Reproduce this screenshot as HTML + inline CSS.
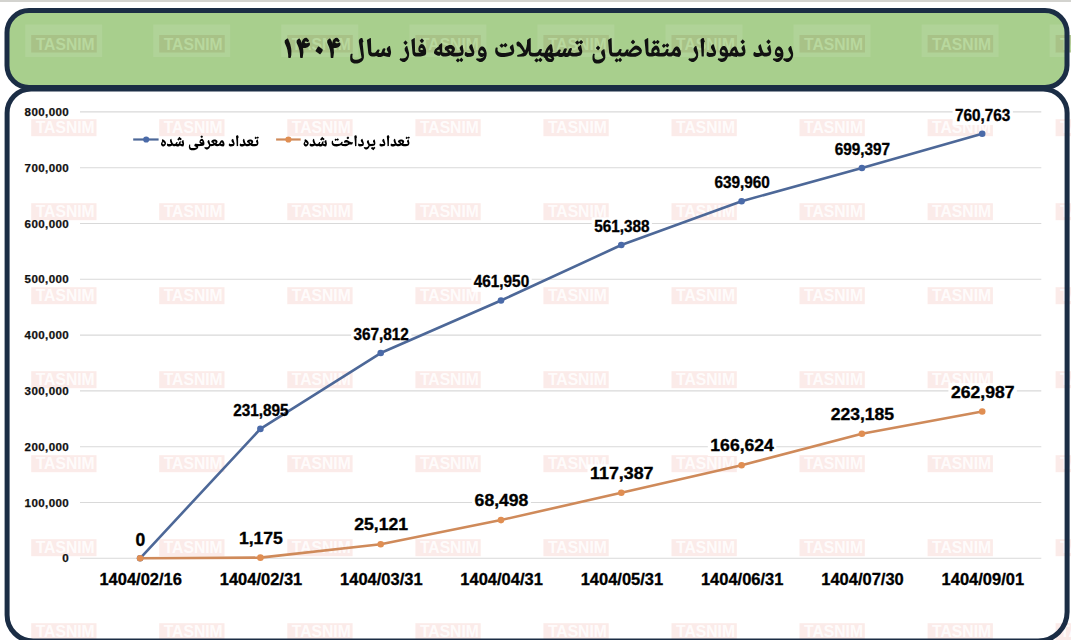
<!DOCTYPE html>
<html><head><meta charset="utf-8"><style>
html,body{margin:0;padding:0;background:#fff;}
svg{display:block;}
text{font-family:"Liberation Sans",sans-serif;font-weight:700;}
.wm{font-size:16.2px;text-anchor:middle;}
.ya{font-size:11.6px;text-anchor:end;letter-spacing:0.37px;fill:#111;stroke:#111;stroke-width:0.25px;}
.dl{font-size:15px;text-anchor:middle;fill:#000;stroke:#000;stroke-width:0.35px;}
.xa{font-size:16px;text-anchor:middle;fill:#000;stroke:#000;stroke-width:0.3px;}
</style></head><body>
<svg width="1071" height="640" viewBox="0 0 1071 640">
<rect x="0" y="0" width="1071" height="640" fill="#ffffff"/><rect x="0" y="0" width="1071" height="2" fill="#d3d3cf"/><rect x="7" y="10.5" width="1060" height="77" rx="22" ry="22" fill="#a8cf8d"/><path d="M31.1 89 H1043.1 A24 24 0 0 1 1067.1 113 V612 A29 29 0 0 1 1038.1 641 H33.1 A26 26 0 0 1 7.1 615 V113 A24 24 0 0 1 31.1 89 Z" fill="#ffffff"/>
<rect x="25.2" y="24.5" width="77" height="32.5" fill="#ffffff" fill-opacity="0.10"/><rect x="31.2" y="35" width="65.5" height="17.5" fill="#a7be84" fill-opacity="0.85"/><text x="65.2" y="49.6" class="wm" fill="#b8d89e" textLength="59" lengthAdjust="spacingAndGlyphs">TASNIM</text><rect x="153.2" y="24.5" width="77" height="32.5" fill="#ffffff" fill-opacity="0.10"/><rect x="159.2" y="35" width="65.5" height="17.5" fill="#a7be84" fill-opacity="0.85"/><text x="193.2" y="49.6" class="wm" fill="#b8d89e" textLength="59" lengthAdjust="spacingAndGlyphs">TASNIM</text><rect x="281.3" y="24.5" width="77" height="32.5" fill="#ffffff" fill-opacity="0.10"/><rect x="287.3" y="35" width="65.5" height="17.5" fill="#a7be84" fill-opacity="0.85"/><text x="321.3" y="49.6" class="wm" fill="#b8d89e" textLength="59" lengthAdjust="spacingAndGlyphs">TASNIM</text><rect x="409.4" y="24.5" width="77" height="32.5" fill="#ffffff" fill-opacity="0.10"/><rect x="415.4" y="35" width="65.5" height="17.5" fill="#a7be84" fill-opacity="0.85"/><text x="449.4" y="49.6" class="wm" fill="#b8d89e" textLength="59" lengthAdjust="spacingAndGlyphs">TASNIM</text><rect x="537.4" y="24.5" width="77" height="32.5" fill="#ffffff" fill-opacity="0.10"/><rect x="543.4" y="35" width="65.5" height="17.5" fill="#a7be84" fill-opacity="0.85"/><text x="577.4" y="49.6" class="wm" fill="#b8d89e" textLength="59" lengthAdjust="spacingAndGlyphs">TASNIM</text><rect x="665.5" y="24.5" width="77" height="32.5" fill="#ffffff" fill-opacity="0.10"/><rect x="671.5" y="35" width="65.5" height="17.5" fill="#a7be84" fill-opacity="0.85"/><text x="705.5" y="49.6" class="wm" fill="#b8d89e" textLength="59" lengthAdjust="spacingAndGlyphs">TASNIM</text><rect x="793.5" y="24.5" width="77" height="32.5" fill="#ffffff" fill-opacity="0.10"/><rect x="799.5" y="35" width="65.5" height="17.5" fill="#a7be84" fill-opacity="0.85"/><text x="833.5" y="49.6" class="wm" fill="#b8d89e" textLength="59" lengthAdjust="spacingAndGlyphs">TASNIM</text><rect x="921.6" y="24.5" width="77" height="32.5" fill="#ffffff" fill-opacity="0.10"/><rect x="927.6" y="35" width="65.5" height="17.5" fill="#a7be84" fill-opacity="0.85"/><text x="961.6" y="49.6" class="wm" fill="#b8d89e" textLength="59" lengthAdjust="spacingAndGlyphs">TASNIM</text><rect x="1049.6" y="24.5" width="77" height="32.5" fill="#ffffff" fill-opacity="0.10"/><rect x="1055.6" y="35" width="65.5" height="17.5" fill="#a7be84" fill-opacity="0.85"/><text x="1089.6" y="49.6" class="wm" fill="#b8d89e" textLength="59" lengthAdjust="spacingAndGlyphs">TASNIM</text><rect x="31.2" y="119.2" width="65.3" height="17" fill="#e05040" fill-opacity="0.115"/><text x="65.2" y="133.2" class="wm" fill="#ffffff" fill-opacity="0.85" textLength="59" lengthAdjust="spacingAndGlyphs">TASNIM</text><rect x="159.2" y="119.2" width="65.3" height="17" fill="#e05040" fill-opacity="0.115"/><text x="193.2" y="133.2" class="wm" fill="#ffffff" fill-opacity="0.85" textLength="59" lengthAdjust="spacingAndGlyphs">TASNIM</text><rect x="287.3" y="119.2" width="65.3" height="17" fill="#e05040" fill-opacity="0.115"/><text x="321.3" y="133.2" class="wm" fill="#ffffff" fill-opacity="0.85" textLength="59" lengthAdjust="spacingAndGlyphs">TASNIM</text><rect x="415.4" y="119.2" width="65.3" height="17" fill="#e05040" fill-opacity="0.115"/><text x="449.4" y="133.2" class="wm" fill="#ffffff" fill-opacity="0.85" textLength="59" lengthAdjust="spacingAndGlyphs">TASNIM</text><rect x="543.4" y="119.2" width="65.3" height="17" fill="#e05040" fill-opacity="0.115"/><text x="577.4" y="133.2" class="wm" fill="#ffffff" fill-opacity="0.85" textLength="59" lengthAdjust="spacingAndGlyphs">TASNIM</text><rect x="671.5" y="119.2" width="65.3" height="17" fill="#e05040" fill-opacity="0.115"/><text x="705.5" y="133.2" class="wm" fill="#ffffff" fill-opacity="0.85" textLength="59" lengthAdjust="spacingAndGlyphs">TASNIM</text><rect x="799.5" y="119.2" width="65.3" height="17" fill="#e05040" fill-opacity="0.115"/><text x="833.5" y="133.2" class="wm" fill="#ffffff" fill-opacity="0.85" textLength="59" lengthAdjust="spacingAndGlyphs">TASNIM</text><rect x="927.6" y="119.2" width="65.3" height="17" fill="#e05040" fill-opacity="0.115"/><text x="961.6" y="133.2" class="wm" fill="#ffffff" fill-opacity="0.85" textLength="59" lengthAdjust="spacingAndGlyphs">TASNIM</text><rect x="1055.6" y="119.2" width="65.3" height="17" fill="#e05040" fill-opacity="0.115"/><text x="1089.6" y="133.2" class="wm" fill="#ffffff" fill-opacity="0.85" textLength="59" lengthAdjust="spacingAndGlyphs">TASNIM</text><rect x="31.2" y="203.2" width="65.3" height="17" fill="#e05040" fill-opacity="0.115"/><text x="65.2" y="217.2" class="wm" fill="#ffffff" fill-opacity="0.85" textLength="59" lengthAdjust="spacingAndGlyphs">TASNIM</text><rect x="159.2" y="203.2" width="65.3" height="17" fill="#e05040" fill-opacity="0.115"/><text x="193.2" y="217.2" class="wm" fill="#ffffff" fill-opacity="0.85" textLength="59" lengthAdjust="spacingAndGlyphs">TASNIM</text><rect x="287.3" y="203.2" width="65.3" height="17" fill="#e05040" fill-opacity="0.115"/><text x="321.3" y="217.2" class="wm" fill="#ffffff" fill-opacity="0.85" textLength="59" lengthAdjust="spacingAndGlyphs">TASNIM</text><rect x="415.4" y="203.2" width="65.3" height="17" fill="#e05040" fill-opacity="0.115"/><text x="449.4" y="217.2" class="wm" fill="#ffffff" fill-opacity="0.85" textLength="59" lengthAdjust="spacingAndGlyphs">TASNIM</text><rect x="543.4" y="203.2" width="65.3" height="17" fill="#e05040" fill-opacity="0.115"/><text x="577.4" y="217.2" class="wm" fill="#ffffff" fill-opacity="0.85" textLength="59" lengthAdjust="spacingAndGlyphs">TASNIM</text><rect x="671.5" y="203.2" width="65.3" height="17" fill="#e05040" fill-opacity="0.115"/><text x="705.5" y="217.2" class="wm" fill="#ffffff" fill-opacity="0.85" textLength="59" lengthAdjust="spacingAndGlyphs">TASNIM</text><rect x="799.5" y="203.2" width="65.3" height="17" fill="#e05040" fill-opacity="0.115"/><text x="833.5" y="217.2" class="wm" fill="#ffffff" fill-opacity="0.85" textLength="59" lengthAdjust="spacingAndGlyphs">TASNIM</text><rect x="927.6" y="203.2" width="65.3" height="17" fill="#e05040" fill-opacity="0.115"/><text x="961.6" y="217.2" class="wm" fill="#ffffff" fill-opacity="0.85" textLength="59" lengthAdjust="spacingAndGlyphs">TASNIM</text><rect x="1055.6" y="203.2" width="65.3" height="17" fill="#e05040" fill-opacity="0.115"/><text x="1089.6" y="217.2" class="wm" fill="#ffffff" fill-opacity="0.85" textLength="59" lengthAdjust="spacingAndGlyphs">TASNIM</text><rect x="31.2" y="287.2" width="65.3" height="17" fill="#e05040" fill-opacity="0.115"/><text x="65.2" y="301.2" class="wm" fill="#ffffff" fill-opacity="0.85" textLength="59" lengthAdjust="spacingAndGlyphs">TASNIM</text><rect x="159.2" y="287.2" width="65.3" height="17" fill="#e05040" fill-opacity="0.115"/><text x="193.2" y="301.2" class="wm" fill="#ffffff" fill-opacity="0.85" textLength="59" lengthAdjust="spacingAndGlyphs">TASNIM</text><rect x="287.3" y="287.2" width="65.3" height="17" fill="#e05040" fill-opacity="0.115"/><text x="321.3" y="301.2" class="wm" fill="#ffffff" fill-opacity="0.85" textLength="59" lengthAdjust="spacingAndGlyphs">TASNIM</text><rect x="415.4" y="287.2" width="65.3" height="17" fill="#e05040" fill-opacity="0.115"/><text x="449.4" y="301.2" class="wm" fill="#ffffff" fill-opacity="0.85" textLength="59" lengthAdjust="spacingAndGlyphs">TASNIM</text><rect x="543.4" y="287.2" width="65.3" height="17" fill="#e05040" fill-opacity="0.115"/><text x="577.4" y="301.2" class="wm" fill="#ffffff" fill-opacity="0.85" textLength="59" lengthAdjust="spacingAndGlyphs">TASNIM</text><rect x="671.5" y="287.2" width="65.3" height="17" fill="#e05040" fill-opacity="0.115"/><text x="705.5" y="301.2" class="wm" fill="#ffffff" fill-opacity="0.85" textLength="59" lengthAdjust="spacingAndGlyphs">TASNIM</text><rect x="799.5" y="287.2" width="65.3" height="17" fill="#e05040" fill-opacity="0.115"/><text x="833.5" y="301.2" class="wm" fill="#ffffff" fill-opacity="0.85" textLength="59" lengthAdjust="spacingAndGlyphs">TASNIM</text><rect x="927.6" y="287.2" width="65.3" height="17" fill="#e05040" fill-opacity="0.115"/><text x="961.6" y="301.2" class="wm" fill="#ffffff" fill-opacity="0.85" textLength="59" lengthAdjust="spacingAndGlyphs">TASNIM</text><rect x="1055.6" y="287.2" width="65.3" height="17" fill="#e05040" fill-opacity="0.115"/><text x="1089.6" y="301.2" class="wm" fill="#ffffff" fill-opacity="0.85" textLength="59" lengthAdjust="spacingAndGlyphs">TASNIM</text><rect x="31.2" y="371.2" width="65.3" height="17" fill="#e05040" fill-opacity="0.115"/><text x="65.2" y="385.2" class="wm" fill="#ffffff" fill-opacity="0.85" textLength="59" lengthAdjust="spacingAndGlyphs">TASNIM</text><rect x="159.2" y="371.2" width="65.3" height="17" fill="#e05040" fill-opacity="0.115"/><text x="193.2" y="385.2" class="wm" fill="#ffffff" fill-opacity="0.85" textLength="59" lengthAdjust="spacingAndGlyphs">TASNIM</text><rect x="287.3" y="371.2" width="65.3" height="17" fill="#e05040" fill-opacity="0.115"/><text x="321.3" y="385.2" class="wm" fill="#ffffff" fill-opacity="0.85" textLength="59" lengthAdjust="spacingAndGlyphs">TASNIM</text><rect x="415.4" y="371.2" width="65.3" height="17" fill="#e05040" fill-opacity="0.115"/><text x="449.4" y="385.2" class="wm" fill="#ffffff" fill-opacity="0.85" textLength="59" lengthAdjust="spacingAndGlyphs">TASNIM</text><rect x="543.4" y="371.2" width="65.3" height="17" fill="#e05040" fill-opacity="0.115"/><text x="577.4" y="385.2" class="wm" fill="#ffffff" fill-opacity="0.85" textLength="59" lengthAdjust="spacingAndGlyphs">TASNIM</text><rect x="671.5" y="371.2" width="65.3" height="17" fill="#e05040" fill-opacity="0.115"/><text x="705.5" y="385.2" class="wm" fill="#ffffff" fill-opacity="0.85" textLength="59" lengthAdjust="spacingAndGlyphs">TASNIM</text><rect x="799.5" y="371.2" width="65.3" height="17" fill="#e05040" fill-opacity="0.115"/><text x="833.5" y="385.2" class="wm" fill="#ffffff" fill-opacity="0.85" textLength="59" lengthAdjust="spacingAndGlyphs">TASNIM</text><rect x="927.6" y="371.2" width="65.3" height="17" fill="#e05040" fill-opacity="0.115"/><text x="961.6" y="385.2" class="wm" fill="#ffffff" fill-opacity="0.85" textLength="59" lengthAdjust="spacingAndGlyphs">TASNIM</text><rect x="1055.6" y="371.2" width="65.3" height="17" fill="#e05040" fill-opacity="0.115"/><text x="1089.6" y="385.2" class="wm" fill="#ffffff" fill-opacity="0.85" textLength="59" lengthAdjust="spacingAndGlyphs">TASNIM</text><rect x="31.2" y="455.2" width="65.3" height="17" fill="#e05040" fill-opacity="0.115"/><text x="65.2" y="469.2" class="wm" fill="#ffffff" fill-opacity="0.85" textLength="59" lengthAdjust="spacingAndGlyphs">TASNIM</text><rect x="159.2" y="455.2" width="65.3" height="17" fill="#e05040" fill-opacity="0.115"/><text x="193.2" y="469.2" class="wm" fill="#ffffff" fill-opacity="0.85" textLength="59" lengthAdjust="spacingAndGlyphs">TASNIM</text><rect x="287.3" y="455.2" width="65.3" height="17" fill="#e05040" fill-opacity="0.115"/><text x="321.3" y="469.2" class="wm" fill="#ffffff" fill-opacity="0.85" textLength="59" lengthAdjust="spacingAndGlyphs">TASNIM</text><rect x="415.4" y="455.2" width="65.3" height="17" fill="#e05040" fill-opacity="0.115"/><text x="449.4" y="469.2" class="wm" fill="#ffffff" fill-opacity="0.85" textLength="59" lengthAdjust="spacingAndGlyphs">TASNIM</text><rect x="543.4" y="455.2" width="65.3" height="17" fill="#e05040" fill-opacity="0.115"/><text x="577.4" y="469.2" class="wm" fill="#ffffff" fill-opacity="0.85" textLength="59" lengthAdjust="spacingAndGlyphs">TASNIM</text><rect x="671.5" y="455.2" width="65.3" height="17" fill="#e05040" fill-opacity="0.115"/><text x="705.5" y="469.2" class="wm" fill="#ffffff" fill-opacity="0.85" textLength="59" lengthAdjust="spacingAndGlyphs">TASNIM</text><rect x="799.5" y="455.2" width="65.3" height="17" fill="#e05040" fill-opacity="0.115"/><text x="833.5" y="469.2" class="wm" fill="#ffffff" fill-opacity="0.85" textLength="59" lengthAdjust="spacingAndGlyphs">TASNIM</text><rect x="927.6" y="455.2" width="65.3" height="17" fill="#e05040" fill-opacity="0.115"/><text x="961.6" y="469.2" class="wm" fill="#ffffff" fill-opacity="0.85" textLength="59" lengthAdjust="spacingAndGlyphs">TASNIM</text><rect x="1055.6" y="455.2" width="65.3" height="17" fill="#e05040" fill-opacity="0.115"/><text x="1089.6" y="469.2" class="wm" fill="#ffffff" fill-opacity="0.85" textLength="59" lengthAdjust="spacingAndGlyphs">TASNIM</text><rect x="31.2" y="539.2" width="65.3" height="17" fill="#e05040" fill-opacity="0.115"/><text x="65.2" y="553.2" class="wm" fill="#ffffff" fill-opacity="0.85" textLength="59" lengthAdjust="spacingAndGlyphs">TASNIM</text><rect x="159.2" y="539.2" width="65.3" height="17" fill="#e05040" fill-opacity="0.115"/><text x="193.2" y="553.2" class="wm" fill="#ffffff" fill-opacity="0.85" textLength="59" lengthAdjust="spacingAndGlyphs">TASNIM</text><rect x="287.3" y="539.2" width="65.3" height="17" fill="#e05040" fill-opacity="0.115"/><text x="321.3" y="553.2" class="wm" fill="#ffffff" fill-opacity="0.85" textLength="59" lengthAdjust="spacingAndGlyphs">TASNIM</text><rect x="415.4" y="539.2" width="65.3" height="17" fill="#e05040" fill-opacity="0.115"/><text x="449.4" y="553.2" class="wm" fill="#ffffff" fill-opacity="0.85" textLength="59" lengthAdjust="spacingAndGlyphs">TASNIM</text><rect x="543.4" y="539.2" width="65.3" height="17" fill="#e05040" fill-opacity="0.115"/><text x="577.4" y="553.2" class="wm" fill="#ffffff" fill-opacity="0.85" textLength="59" lengthAdjust="spacingAndGlyphs">TASNIM</text><rect x="671.5" y="539.2" width="65.3" height="17" fill="#e05040" fill-opacity="0.115"/><text x="705.5" y="553.2" class="wm" fill="#ffffff" fill-opacity="0.85" textLength="59" lengthAdjust="spacingAndGlyphs">TASNIM</text><rect x="799.5" y="539.2" width="65.3" height="17" fill="#e05040" fill-opacity="0.115"/><text x="833.5" y="553.2" class="wm" fill="#ffffff" fill-opacity="0.85" textLength="59" lengthAdjust="spacingAndGlyphs">TASNIM</text><rect x="927.6" y="539.2" width="65.3" height="17" fill="#e05040" fill-opacity="0.115"/><text x="961.6" y="553.2" class="wm" fill="#ffffff" fill-opacity="0.85" textLength="59" lengthAdjust="spacingAndGlyphs">TASNIM</text><rect x="1055.6" y="539.2" width="65.3" height="17" fill="#e05040" fill-opacity="0.115"/><text x="1089.6" y="553.2" class="wm" fill="#ffffff" fill-opacity="0.85" textLength="59" lengthAdjust="spacingAndGlyphs">TASNIM</text><rect x="31.2" y="623.2" width="65.3" height="17" fill="#e05040" fill-opacity="0.115"/><text x="65.2" y="637.2" class="wm" fill="#ffffff" fill-opacity="0.85" textLength="59" lengthAdjust="spacingAndGlyphs">TASNIM</text><rect x="159.2" y="623.2" width="65.3" height="17" fill="#e05040" fill-opacity="0.115"/><text x="193.2" y="637.2" class="wm" fill="#ffffff" fill-opacity="0.85" textLength="59" lengthAdjust="spacingAndGlyphs">TASNIM</text><rect x="287.3" y="623.2" width="65.3" height="17" fill="#e05040" fill-opacity="0.115"/><text x="321.3" y="637.2" class="wm" fill="#ffffff" fill-opacity="0.85" textLength="59" lengthAdjust="spacingAndGlyphs">TASNIM</text><rect x="415.4" y="623.2" width="65.3" height="17" fill="#e05040" fill-opacity="0.115"/><text x="449.4" y="637.2" class="wm" fill="#ffffff" fill-opacity="0.85" textLength="59" lengthAdjust="spacingAndGlyphs">TASNIM</text><rect x="543.4" y="623.2" width="65.3" height="17" fill="#e05040" fill-opacity="0.115"/><text x="577.4" y="637.2" class="wm" fill="#ffffff" fill-opacity="0.85" textLength="59" lengthAdjust="spacingAndGlyphs">TASNIM</text><rect x="671.5" y="623.2" width="65.3" height="17" fill="#e05040" fill-opacity="0.115"/><text x="705.5" y="637.2" class="wm" fill="#ffffff" fill-opacity="0.85" textLength="59" lengthAdjust="spacingAndGlyphs">TASNIM</text><rect x="799.5" y="623.2" width="65.3" height="17" fill="#e05040" fill-opacity="0.115"/><text x="833.5" y="637.2" class="wm" fill="#ffffff" fill-opacity="0.85" textLength="59" lengthAdjust="spacingAndGlyphs">TASNIM</text><rect x="927.6" y="623.2" width="65.3" height="17" fill="#e05040" fill-opacity="0.115"/><text x="961.6" y="637.2" class="wm" fill="#ffffff" fill-opacity="0.85" textLength="59" lengthAdjust="spacingAndGlyphs">TASNIM</text><rect x="1055.6" y="623.2" width="65.3" height="17" fill="#e05040" fill-opacity="0.115"/><text x="1089.6" y="637.2" class="wm" fill="#ffffff" fill-opacity="0.85" textLength="59" lengthAdjust="spacingAndGlyphs">TASNIM</text>
<line x1="80" y1="558.30" x2="1041.3" y2="558.30" stroke="#d9d9d9" stroke-width="1.1"/><text x="69.1" y="562.30" class="ya">0</text><line x1="80" y1="502.50" x2="1041.3" y2="502.50" stroke="#d9d9d9" stroke-width="1.1"/><text x="69.1" y="506.50" class="ya">100,000</text><line x1="80" y1="446.70" x2="1041.3" y2="446.70" stroke="#d9d9d9" stroke-width="1.1"/><text x="69.1" y="450.70" class="ya">200,000</text><line x1="80" y1="390.90" x2="1041.3" y2="390.90" stroke="#d9d9d9" stroke-width="1.1"/><text x="69.1" y="394.90" class="ya">300,000</text><line x1="80" y1="335.10" x2="1041.3" y2="335.10" stroke="#d9d9d9" stroke-width="1.1"/><text x="69.1" y="339.10" class="ya">400,000</text><line x1="80" y1="279.30" x2="1041.3" y2="279.30" stroke="#d9d9d9" stroke-width="1.1"/><text x="69.1" y="283.30" class="ya">500,000</text><line x1="80" y1="223.50" x2="1041.3" y2="223.50" stroke="#d9d9d9" stroke-width="1.1"/><text x="69.1" y="227.50" class="ya">600,000</text><line x1="80" y1="167.70" x2="1041.3" y2="167.70" stroke="#d9d9d9" stroke-width="1.1"/><text x="69.1" y="171.70" class="ya">700,000</text><line x1="80" y1="111.90" x2="1041.3" y2="111.90" stroke="#d9d9d9" stroke-width="1.1"/><text x="69.1" y="115.90" class="ya">800,000</text>
<path d="M318.1 46.5 315.6 50.6 315.6 51.2 319.8 54.2 320.3 54.2 322.0 51.9 322.7 50.6 322.7 49.6 320.6 47.7 318.9 46.6ZM287.1 38.4 285.0 40.2 284.7 40.8 284.7 42.8 286.7 47.4 287.5 50.3 288.2 55.0 288.2 57.4 288.9 57.9 290.3 58.0 290.8 57.5 291.3 54.9 291.4 50.7 291.1 47.9 290.2 43.9 288.2 38.9 287.7 38.4ZM336.8 37.8 335.2 37.9 333.5 39.4 332.7 40.9 332.4 43.0 331.3 40.2 330.2 38.4 329.6 38.4 328.8 38.9 327.5 40.2 327.2 40.8 327.2 42.8 329.2 47.4 330.0 50.3 330.5 53.4 330.7 57.4 331.3 57.9 333.0 58.0 333.3 57.7 334.0 52.6 333.6 48.1 336.0 47.9 338.2 47.3 339.0 46.8 340.4 45.2 340.5 43.8 340.2 42.7 339.9 42.4 339.4 42.4 337.6 43.3 336.5 43.3 335.8 43.0 335.2 42.0 336.0 41.6 336.8 41.6 338.5 42.2 339.6 41.1 339.6 40.5 339.1 39.7 337.6 38.1ZM332.4 43.2 332.5 43.0 332.7 43.3 332.5 43.5ZM306.2 37.8 304.6 37.9 302.9 39.4 302.1 40.9 301.8 43.0 300.7 40.2 299.6 38.4 299.0 38.4 298.2 38.9 296.9 40.2 296.6 40.8 296.6 42.8 298.7 47.4 299.4 50.3 299.9 53.4 300.1 57.4 300.7 57.9 302.4 58.0 302.7 57.7 303.4 52.6 303.1 48.1 305.4 47.9 307.6 47.3 308.4 46.8 309.8 45.2 310.0 43.8 309.6 42.7 309.3 42.4 308.9 42.4 307.0 43.3 305.9 43.3 305.2 43.0 304.6 42.0 305.4 41.6 306.2 41.6 307.9 42.2 309.0 41.1 309.0 40.5 308.5 39.7 307.0 38.1ZM301.8 43.2 302.0 43.0 302.1 43.3 302.0 43.5ZM366.9 40.1 368.3 53.0 368.8 54.5 370.2 55.9 371.9 56.6 374.4 56.6 376.3 56.1 378.4 56.9 380.6 56.9 382.1 56.6 383.5 55.7 384.3 56.1 387.1 56.7 389.7 56.9 390.0 56.6 390.9 53.9 391.1 52.1 390.0 46.3 389.7 46.1 389.2 46.1 388.2 46.7 387.3 47.7 386.7 48.7 386.9 49.9 388.4 52.9 388.2 53.1 385.9 52.7 384.6 52.2 384.8 50.9 385.5 49.3 385.5 48.9 384.8 48.3 383.3 48.5 382.7 49.1 381.6 52.1 381.0 52.9 378.6 52.9 379.7 49.9 378.9 49.4 378.0 49.4 377.5 49.7 375.6 52.3 374.7 52.7 372.2 52.7 371.3 52.1 370.9 38.3 370.3 38.1 367.7 39.4ZM362.2 38.1 361.4 38.1 360.1 38.6 359.3 39.4 358.8 40.6 358.9 42.6 361.6 57.7 360.4 58.6 358.2 59.5 356.3 59.8 355.1 59.8 354.0 59.5 352.9 58.7 352.4 57.4 352.4 55.4 352.7 54.1 352.4 53.8 351.0 53.7 350.6 54.3 350.2 56.2 350.2 59.5 350.6 60.9 351.3 61.9 352.8 63.1 354.2 63.5 357.2 63.5 359.2 63.0 360.5 62.3 361.8 61.4 362.9 60.2 363.5 59.0 363.9 57.4 363.9 55.3 362.7 43.7 362.7 42.5 363.5 41.8 362.4 38.3ZM407.1 46.1 406.6 46.1 405.7 46.7 404.7 48.3 404.7 49.9 404.9 50.7 407.2 55.0 406.6 56.5 405.5 57.7 404.2 58.3 401.8 58.5 400.2 58.2 399.6 59.4 399.6 59.7 400.7 60.7 402.8 62.1 404.7 61.9 406.2 61.1 407.7 59.5 408.7 57.3 409.1 55.4 409.1 53.1 407.3 46.3ZM405.4 40.5 403.5 42.6 403.5 43.0 405.4 45.0 405.7 45.0 407.5 42.9 407.5 42.5 405.7 40.5ZM421.7 38.5 419.8 40.6 419.8 41.0 421.7 43.0 422.1 43.0 423.9 40.9 423.9 40.5 422.1 38.5ZM411.6 39.7 411.3 40.1 411.5 41.8 412.4 51.9 412.6 53.5 413.2 54.9 414.2 55.9 415.7 56.6 420.7 56.5 422.8 56.1 425.1 55.3 425.7 54.6 426.1 53.5 426.1 50.6 425.8 49.1 425.2 47.3 424.2 45.4 423.2 44.5 421.7 44.1 420.4 44.6 419.0 46.3 418.4 48.2 418.4 50.3 418.6 51.0 419.3 51.9 419.9 52.3 420.7 52.5 420.7 52.7 416.0 52.7 415.1 52.1 414.8 38.3 414.3 38.1ZM420.2 48.9 420.9 48.1 422.0 48.1 422.8 48.7 423.2 49.5 423.0 49.8 421.1 49.9 420.7 49.8 420.3 49.4ZM463.2 59.7 461.5 57.8 461.2 57.8 459.5 59.7 458.1 58.2 457.8 58.2 455.9 60.2 455.9 60.5 457.6 62.2 458.2 62.3 459.7 60.6 461.1 61.9 461.5 61.9 462.9 60.5ZM482.8 46.5 481.1 46.6 479.5 48.1 478.4 50.5 478.1 51.8 478.1 53.8 478.6 55.3 480.0 56.6 480.9 56.9 482.4 56.9 483.8 56.3 483.8 56.7 482.9 57.5 480.5 58.5 478.4 58.5 476.7 58.2 476.1 59.4 476.1 59.7 477.1 60.6 479.6 62.1 481.0 62.1 482.4 61.7 484.3 60.3 485.5 58.7 486.5 56.1 486.7 53.0 486.0 50.3 485.0 48.3 483.8 47.0ZM480.1 51.5 480.8 50.6 481.3 50.3 482.0 50.3 482.8 50.7 483.4 51.4 484.2 52.9 482.9 53.3 481.0 53.1 480.2 52.6ZM471.8 44.2 470.7 44.6 469.7 45.7 469.3 46.5 469.3 47.8 469.7 48.7 471.9 52.5 471.7 52.7 470.4 53.0 468.1 53.0 467.1 52.7 466.1 52.1 465.6 52.1 465.1 52.6 464.7 53.7 464.7 55.1 465.0 55.7 466.1 56.6 467.3 56.9 470.7 56.7 472.9 56.1 473.7 55.3 474.3 53.3 474.3 51.5 472.1 44.5ZM434.0 52.2 434.0 53.3 435.0 54.3 436.3 55.1 437.9 55.7 439.8 55.8 440.6 54.6 441.4 55.8 442.3 56.3 443.3 56.6 445.8 56.6 447.4 56.3 449.2 55.7 450.1 55.1 451.3 55.8 453.3 56.5 457.4 56.6 460.3 56.1 462.4 55.3 462.7 54.9 463.5 52.9 463.6 50.7 462.7 45.8 462.4 45.1 462.0 45.1 461.2 45.7 460.0 47.0 459.7 47.5 459.8 49.1 461.3 52.1 461.2 52.2 458.6 52.7 453.5 52.7 453.4 52.6 454.4 51.3 454.9 49.8 454.9 48.6 454.4 47.3 453.0 45.8 451.5 45.1 449.1 45.1 447.4 45.7 446.1 46.3 445.0 47.5 444.7 48.2 444.7 49.1 445.1 50.1 445.6 50.6 446.2 50.5 447.6 51.9 448.0 52.6 445.5 52.9 442.9 52.6 442.2 52.2 442.2 43.5 441.9 43.3 441.4 43.3 438.9 45.3 438.9 46.2 437.2 47.4 435.1 49.3 434.6 50.2ZM440.0 51.8 438.5 51.8 436.6 51.0 437.4 50.3 439.4 49.4ZM448.6 49.0 449.6 48.7 450.9 48.7 451.4 49.0 451.8 49.7 451.5 50.7 450.8 51.7 448.5 49.3ZM542.4 59.7 540.5 57.8 540.2 57.8 538.3 59.7 536.8 58.2 536.5 58.2 534.4 60.2 534.4 60.5 536.2 62.2 536.9 62.3 538.6 60.6 540.1 61.9 540.5 61.9 542.0 60.5ZM513.2 44.7 512.9 44.5 512.3 44.5 510.3 46.2 509.8 47.0 510.0 48.2 511.8 51.4 511.1 51.8 508.2 52.6 505.3 53.0 501.8 53.0 499.8 52.6 498.9 52.2 497.8 50.9 497.5 49.8 497.7 47.9 497.3 47.5 496.0 47.5 495.6 47.9 495.2 49.9 495.2 51.9 495.9 54.1 497.5 55.8 498.9 56.5 500.9 56.9 504.2 56.9 507.2 56.5 511.1 55.4 512.7 54.6 513.6 53.5 514.3 51.1ZM507.5 45.0 505.6 43.1 505.3 43.1 503.3 45.0 501.8 43.5 501.6 43.5 499.5 45.5 499.5 45.8 501.3 47.5 502.0 47.7 503.6 45.9 505.1 47.3 505.6 47.3 507.1 45.8ZM583.2 41.9 581.2 40.1 581.0 40.1 579.0 41.9 577.5 40.5 577.2 40.5 575.2 42.5 575.2 42.7 576.9 44.5 577.6 44.6 579.3 42.9 580.8 44.2 581.2 44.2 582.7 42.7ZM516.5 43.0 516.5 44.6 516.9 45.4 517.8 46.5 518.8 46.5 519.6 47.1 521.6 49.4 523.5 52.5 522.4 53.3 520.9 53.9 517.4 54.9 517.2 55.1 517.2 56.2 517.6 56.7 523.6 56.5 525.7 55.8 527.2 54.1 528.5 50.7 528.9 54.1 529.3 55.0 530.3 55.9 532.2 56.6 535.9 56.6 537.9 56.2 538.7 55.8 539.5 55.0 541.2 56.2 542.4 56.6 543.5 56.6 543.8 57.4 544.9 57.9 545.6 59.7 546.7 60.9 547.9 61.7 549.5 62.1 552.0 61.9 553.2 61.1 554.2 58.9 554.2 57.9 553.5 56.9 553.6 56.6 555.5 56.6 557.5 56.1 559.7 56.9 561.9 56.9 563.8 56.3 565.5 56.9 567.4 56.9 569.1 56.3 569.9 55.4 571.3 56.2 572.7 56.6 576.5 56.5 579.6 55.8 580.8 55.3 581.5 54.3 582.2 52.3 582.2 50.7 581.2 45.8 580.8 45.1 580.4 45.1 579.6 45.7 578.2 47.0 577.9 47.5 578.1 49.1 579.7 52.1 579.3 52.3 574.0 52.9 571.3 52.5 570.9 52.1 572.0 49.1 572.0 48.6 571.6 48.2 570.3 48.1 569.9 48.2 569.1 49.0 567.8 52.3 567.3 53.0 565.6 53.0 566.9 49.3 566.9 48.9 566.2 48.3 564.7 48.5 564.0 49.1 562.9 52.1 562.3 52.9 559.8 52.9 560.9 49.9 560.1 49.4 559.3 49.4 558.7 49.7 557.2 51.9 556.2 52.6 554.7 52.9 552.4 52.9 552.2 52.7 552.8 51.8 552.8 49.7 552.0 44.7 551.7 44.5 550.3 44.2 548.5 45.9 546.7 48.3 545.5 50.7 544.8 52.7 542.3 52.7 541.3 52.5 541.0 52.2 542.0 50.1 542.0 49.5 541.2 49.0 539.8 49.1 538.8 50.2 538.1 51.7 537.2 52.5 536.2 52.7 534.1 52.9 532.2 52.7 530.8 52.2 530.7 38.3 530.4 38.1 529.2 38.6 527.1 40.1 527.0 43.8 526.5 46.7 525.9 49.1 525.2 50.3 524.9 50.2 524.5 49.0 522.8 45.9 520.9 43.3 518.8 41.4 518.3 41.4 517.4 41.8 516.6 42.6ZM547.7 56.7 548.2 56.6 549.7 57.0 550.7 57.5 551.7 58.6 551.1 58.9 549.2 58.6 548.1 57.7ZM549.3 49.3 550.3 51.9 549.1 52.6 547.8 52.9 547.7 52.6 548.2 51.0ZM622.0 59.7 620.3 57.8 620.0 57.8 618.2 59.7 616.8 58.2 616.6 58.2 614.7 60.2 614.7 60.5 616.3 62.2 617.0 62.3 618.5 60.6 619.9 61.9 620.3 61.9 621.7 60.5ZM604.2 49.0 602.8 49.7 601.8 50.7 601.2 51.8 601.1 53.1 601.4 53.9 603.3 57.7 601.1 59.1 598.3 59.8 597.1 59.8 595.5 59.3 595.0 58.7 594.5 57.4 594.5 55.4 594.8 54.1 594.0 53.7 593.3 53.7 593.0 53.9 592.5 56.3 592.5 59.4 593.3 61.5 594.5 62.9 596.2 63.5 599.0 63.5 600.1 63.3 602.4 62.2 604.5 59.9 605.3 57.9 605.3 55.0 604.4 49.3ZM598.0 45.7 595.9 47.8 595.9 48.2 598.0 50.2 598.3 50.2 600.2 48.1 600.2 47.7 598.3 45.7ZM669.2 45.1 667.4 43.3 667.2 43.3 665.4 45.1 664.0 43.7 663.8 43.7 661.9 45.7 661.9 45.9 663.5 47.7 664.1 47.8 665.7 46.1 667.1 47.4 667.4 47.4 668.8 45.9ZM659.6 41.8 657.8 39.9 657.5 39.9 655.8 41.8 654.4 40.3 654.1 40.3 652.2 42.3 652.2 42.6 653.9 44.3 654.5 44.5 656.0 42.7 657.4 44.1 657.8 44.1 659.2 42.6ZM632.8 39.8 630.8 41.9 630.8 42.3 632.8 44.3 633.2 44.3 635.1 42.2 635.1 41.8 633.2 39.8ZM644.5 40.1 645.8 53.0 646.5 54.9 647.5 55.9 649.2 56.6 652.3 56.6 655.6 55.8 657.2 56.3 658.9 56.6 663.1 56.6 664.9 56.2 665.7 55.8 666.4 55.0 667.9 56.2 669.1 56.6 671.4 56.5 673.0 55.5 675.9 56.6 679.2 56.9 680.0 56.1 680.6 55.0 680.9 54.2 680.9 52.2 680.4 50.2 679.1 47.8 678.3 47.0 677.4 46.5 676.1 46.5 675.3 46.9 674.0 48.2 672.0 51.9 671.0 52.6 669.0 52.7 668.1 52.5 667.8 52.2 668.6 50.5 668.7 49.5 667.9 49.0 666.9 49.0 666.0 49.8 665.2 51.7 664.5 52.3 663.4 52.7 660.1 52.9 659.4 52.6 659.7 50.7 659.3 48.7 658.3 46.7 657.2 45.7 655.8 45.5 654.6 45.9 653.9 46.5 652.0 48.6 651.6 49.5 651.3 51.1 651.5 52.6 651.0 52.9 649.4 52.7 648.5 52.1 648.2 38.3 647.7 38.1 645.2 39.4ZM675.8 50.5 676.6 50.3 677.1 50.9 677.7 52.3 677.7 53.1 675.5 52.7 674.8 52.3 674.9 51.8ZM656.3 49.5 656.9 50.3 657.5 51.7 657.4 51.9 655.4 52.9 654.5 52.5 653.5 51.7 654.6 50.2 655.4 49.7ZM608.0 40.1 609.2 53.0 610.0 54.9 611.0 55.9 612.7 56.6 617.0 56.5 618.6 55.8 619.4 55.0 620.9 56.2 622.0 56.6 624.6 56.5 625.6 56.1 626.2 55.5 627.7 56.2 630.2 56.7 635.4 56.7 637.6 56.1 639.4 55.1 641.1 53.5 641.7 52.3 641.9 50.2 640.9 48.3 638.8 46.3 637.5 45.7 635.9 45.5 634.5 46.1 632.7 47.4 630.3 49.9 628.4 52.5 627.9 52.2 628.6 50.5 628.6 49.8 628.1 49.4 626.7 49.5 626.2 50.1 625.3 51.8 624.2 52.7 621.9 52.7 621.0 52.5 620.8 52.2 621.5 50.5 621.7 49.5 620.9 49.0 619.9 49.0 619.0 49.8 618.1 51.7 617.5 52.3 616.3 52.7 612.9 52.7 612.0 52.1 611.6 38.3 611.1 38.1 608.7 39.4ZM639.5 51.5 638.1 52.3 635.4 53.1 632.1 53.3 630.8 53.0 632.8 50.9 634.1 49.9 635.2 49.4 636.5 49.4 638.1 50.2ZM696.1 46.1 695.6 46.1 694.7 46.7 693.6 48.3 693.6 49.9 693.9 50.7 696.2 55.0 695.6 56.5 694.5 57.7 693.1 58.3 690.6 58.5 689.0 58.2 688.4 59.4 688.4 59.7 689.5 60.7 691.8 62.1 693.6 61.9 695.2 61.1 696.7 59.5 697.9 57.3 698.2 55.4 698.2 53.1 696.4 46.3ZM744.5 45.7 744.1 45.1 743.8 45.1 743.0 45.7 741.6 47.3 741.5 48.7 743.1 52.1 742.9 52.3 741.0 52.7 739.0 52.7 738.7 52.5 737.7 50.7 737.0 48.7 736.2 47.0 735.5 46.5 734.3 46.5 732.7 47.4 731.3 49.0 730.4 50.7 729.9 52.7 728.2 52.9 727.6 49.9 726.5 47.7 725.2 46.3 724.5 45.9 723.0 45.9 722.1 46.5 721.2 47.4 720.2 49.3 719.7 51.4 719.9 53.7 720.4 54.7 721.1 55.5 722.5 56.2 725.0 56.5 725.3 56.7 724.2 57.7 722.1 58.5 720.0 58.5 718.4 58.2 717.9 59.0 717.8 59.7 718.8 60.6 720.9 61.9 722.5 62.1 724.2 61.5 725.2 60.9 726.7 59.3 728.0 56.6 730.1 56.6 731.2 56.2 731.7 55.8 733.7 56.6 736.9 56.9 737.4 55.9 738.7 56.6 740.6 56.6 742.3 56.2 743.8 55.5 744.5 54.9 745.4 52.5 745.4 50.3ZM732.2 51.9 733.6 50.7 734.7 50.2 735.4 53.0 735.3 53.1 733.7 52.7ZM721.9 50.5 722.2 50.1 723.1 49.7 724.0 49.9 724.8 50.7 725.7 52.6 724.5 52.7 722.4 52.2 721.7 51.4ZM713.5 44.2 712.4 44.6 711.4 45.7 711.0 46.5 711.0 47.8 711.4 48.7 713.7 52.5 713.4 52.7 712.2 53.0 709.9 53.0 708.9 52.7 707.9 52.1 707.4 52.1 706.9 52.6 706.6 53.7 706.6 55.1 706.8 55.7 707.9 56.6 709.1 56.9 712.4 56.7 714.6 56.1 715.4 55.3 716.0 53.3 716.0 51.5 713.8 44.5ZM742.5 39.5 740.5 41.7 740.5 42.1 742.5 44.1 742.9 44.1 744.8 41.9 744.8 41.5 742.9 39.5ZM703.6 38.1 702.7 38.1 701.7 38.5 700.8 39.3 700.5 40.1 701.2 48.3 701.6 56.3 701.8 56.6 703.6 56.5 703.8 56.2 704.0 42.6 704.8 41.8 704.8 41.4 703.8 38.3ZM779.5 46.5 777.9 46.6 776.3 48.1 775.1 50.5 774.9 51.8 774.9 53.8 775.4 55.3 776.8 56.6 777.6 56.9 779.1 56.9 780.5 56.3 780.5 56.7 779.6 57.5 777.3 58.5 775.1 58.5 773.5 58.2 772.9 59.4 772.9 59.7 773.9 60.6 776.4 62.1 777.8 62.1 779.1 61.7 781.0 60.3 782.3 58.7 783.3 56.1 783.4 53.0 782.8 50.3 781.8 48.3 780.5 47.0ZM776.9 51.5 777.5 50.6 778.0 50.3 778.8 50.3 779.5 50.7 780.1 51.4 780.9 52.9 779.6 53.3 777.8 53.1 777.0 52.6ZM790.9 46.1 790.4 46.1 789.6 46.7 788.4 48.3 788.4 49.9 788.7 50.7 791.1 55.0 790.4 56.5 789.3 57.7 787.9 58.3 785.4 58.5 783.8 58.2 783.2 59.4 783.2 59.7 784.3 60.7 786.5 62.1 788.4 61.9 790.1 61.1 791.6 59.5 792.7 57.3 793.1 55.4 793.1 53.1 791.2 46.3ZM753.4 53.7 753.4 55.1 753.7 55.7 754.5 56.5 755.9 56.9 758.2 56.9 759.6 56.6 762.1 55.5 764.2 56.6 766.5 56.6 768.5 56.1 769.6 55.5 770.3 54.9 771.2 52.5 771.2 50.3 770.3 45.7 770.0 45.1 769.6 45.1 768.8 45.7 767.3 47.5 767.3 48.7 769.0 52.1 768.7 52.3 766.8 52.7 764.4 52.7 763.8 52.5 763.2 51.8 762.2 49.5 760.8 44.5 760.6 44.2 760.2 44.2 758.8 45.4 758.4 46.3 758.4 47.9 759.2 50.3 760.3 52.6 759.2 53.0 756.8 53.0 755.8 52.7 754.8 52.1 754.3 52.1 753.8 52.6ZM768.3 39.5 766.3 41.7 766.3 42.1 768.3 44.1 768.7 44.1 770.6 41.9 770.6 41.5 768.7 39.5Z" fill="#111" fill-rule="evenodd"/>
<line x1="133.2" y1="139.5" x2="158.6" y2="139.5" stroke="#4d6898" stroke-width="2.2"/><circle cx="146.2" cy="139.5" r="3.1" fill="#4a6aa8"/><line x1="276.1" y1="139.5" x2="300.7" y2="139.5" stroke="#cf8a5a" stroke-width="2.2"/><circle cx="288.4" cy="139.5" r="3.1" fill="#e08e52"/><path d="M224.4 143.3 224.0 142.1 223.4 140.9 223.1 140.6 222.4 140.2 221.7 140.2 221.1 140.5 220.5 141.1 219.5 143.0 219.0 143.6 218.4 143.9 216.7 143.9 216.6 143.8 217.1 143.1 217.5 142.1 217.5 141.5 217.1 140.6 216.4 139.9 215.4 139.4 214.1 139.4 213.0 139.7 212.1 140.2 211.6 140.7 211.3 141.3 211.3 141.7 211.6 142.4 211.9 142.6 212.2 142.6 213.4 143.8 211.9 144.0 210.6 143.9 210.2 143.7 209.3 140.7 209.1 140.0 208.8 139.9 208.0 140.6 207.5 141.4 207.5 142.2 207.7 142.6 209.1 145.2 209.1 145.4 208.8 146.0 208.0 146.9 207.3 147.2 205.6 147.3 204.8 147.1 204.6 147.2 204.3 147.9 204.9 148.6 206.2 149.4 207.4 149.4 208.7 148.7 209.4 148.0 210.0 146.9 210.3 146.0 210.8 146.2 212.5 146.1 213.6 145.8 214.7 145.3 215.7 145.9 217.1 146.2 218.7 146.1 219.7 145.5 220.3 145.8 221.6 146.2 223.4 146.4 223.9 146.0 224.4 145.2 224.5 144.7ZM221.5 142.5 221.8 142.4 222.1 142.6 222.6 143.6 222.6 144.1 222.1 144.1 220.8 143.7 221.1 143.0ZM214.2 141.5 215.1 141.5 215.6 142.0 215.5 142.6 215.0 143.3 213.5 141.8ZM162.6 139.2 162.1 139.6 162.0 139.9 161.9 140.5 162.2 141.3 161.8 141.8 161.2 143.0 161.0 143.4 161.0 144.6 161.5 145.6 162.0 146.0 162.8 146.4 163.6 146.4 164.4 146.1 165.1 145.6 165.8 144.2 166.0 143.4 166.0 143.0 165.7 141.9 165.1 140.9 164.0 139.9ZM163.2 142.0 164.3 143.2 164.6 143.8 164.5 144.1 163.7 144.3 163.1 144.3 162.5 143.8 162.5 143.0 162.9 142.3ZM239.7 145.3 240.1 145.9 240.6 146.2 241.3 146.4 242.6 146.4 243.4 146.2 244.5 145.8 245.1 145.5 245.4 145.8 246.4 146.2 247.7 146.2 248.9 146.0 250.4 145.3 251.5 145.9 252.8 146.2 254.6 146.2 256.3 145.9 257.7 145.3 258.3 143.9 258.4 142.8 257.9 139.9 257.7 139.5 257.6 139.4 257.2 139.6 256.3 140.4 256.0 140.9 256.1 141.7 257.0 143.4 256.9 143.7 255.4 143.9 253.1 144.0 252.3 143.8 253.1 142.6 253.2 141.5 252.8 140.6 252.1 139.9 251.1 139.4 249.8 139.4 248.7 139.7 247.8 140.2 247.3 140.7 247.0 141.3 247.0 141.7 247.3 142.4 247.7 142.6 248.0 142.6 249.1 143.8 247.0 144.0 246.1 143.8 245.6 143.3 245.1 142.1 244.2 139.1 243.9 138.8 243.5 139.1 243.1 139.5 242.8 140.2 242.9 141.3 243.2 142.4 243.9 143.8 243.8 144.0 243.3 144.1 241.7 144.1 241.1 143.9 240.3 143.5 240.0 143.7 239.7 144.5ZM249.9 141.5 250.9 141.5 251.3 142.0 251.2 142.6 250.7 143.3 249.3 141.8ZM233.0 138.8 232.3 139.2 231.8 139.6 231.5 140.3 231.5 140.9 232.0 142.0 233.2 143.7 233.0 143.9 232.3 144.1 230.7 144.1 230.1 143.9 229.5 143.5 229.2 143.6 228.8 144.5 228.8 145.3 229.0 145.7 229.7 146.2 230.4 146.4 232.3 146.3 233.9 145.7 234.2 145.3 234.6 144.1 234.6 143.3 233.2 139.1ZM166.9 144.5 166.9 145.3 167.2 145.7 167.9 146.2 168.5 146.4 169.8 146.4 170.6 146.2 171.7 145.8 172.3 145.5 172.7 145.8 173.6 146.2 174.6 146.2 175.8 145.9 177.1 146.4 178.1 146.4 179.0 146.2 179.4 146.0 179.7 145.6 179.9 145.6 181.5 146.2 183.2 146.4 183.5 146.0 183.9 144.9 184.1 143.6 183.4 140.0 183.1 139.9 182.0 140.8 181.6 141.6 181.7 142.2 182.6 144.1 182.5 144.1 181.7 144.1 180.3 143.6 181.0 141.8 180.9 141.5 180.5 141.3 179.8 141.4 179.4 141.7 178.5 144.0 177.1 144.0 177.7 142.3 177.6 142.2 177.1 141.9 176.8 141.9 176.4 142.2 175.7 143.4 175.2 143.8 174.3 144.0 173.3 143.8 172.8 143.3 172.4 142.5 171.7 140.4 171.4 139.1 171.1 138.8 170.7 139.1 170.3 139.5 170.0 140.2 170.1 141.3 170.4 142.4 171.1 143.8 171.0 144.0 170.5 144.1 168.9 144.1 168.3 143.9 167.5 143.5 167.2 143.7ZM203.4 139.9 202.7 139.1 201.7 138.8 200.7 139.2 200.0 140.0 199.5 141.3 199.5 142.4 200.1 143.4 200.6 143.7 201.1 143.7 201.1 143.9 198.0 144.0 196.0 143.8 195.4 143.7 195.0 143.8 194.4 145.0 194.3 145.6 194.4 146.0 194.8 146.3 196.6 147.3 196.6 147.5 194.7 147.9 193.3 148.1 192.1 148.1 191.2 147.9 190.8 147.7 190.2 146.9 190.2 144.6 189.7 144.5 189.3 144.5 188.9 146.1 188.9 147.7 189.3 148.8 189.6 149.4 190.1 149.8 191.2 150.2 193.4 150.3 194.2 150.2 196.3 149.4 197.3 148.8 197.9 148.3 198.2 147.6 198.2 147.1 198.1 146.6 197.7 146.3 197.8 146.2 200.9 146.1 202.9 145.7 203.9 145.3 204.1 145.1 204.4 144.3 204.4 142.7 204.0 141.1ZM200.7 141.5 201.1 141.1 201.9 141.1 202.4 141.6 202.7 142.0 202.5 142.2 201.2 142.2 200.7 142.0ZM179.5 136.8 178.5 137.7 178.5 138.0 177.3 139.3 177.4 139.6 178.4 140.5 178.7 140.4 179.6 139.4 180.4 140.2 180.6 140.3 181.5 139.5 181.7 139.1 181.6 138.8 180.8 138.0 180.6 137.9ZM258.9 137.6 257.8 136.4 256.6 137.5 255.7 136.6 254.5 137.9 255.4 138.9 255.8 139.1 256.3 138.7 256.7 138.0 257.8 138.8 258.6 138.0ZM201.7 135.4 200.5 136.6 200.4 136.9 201.1 137.6 201.8 138.1 202.7 137.3 203.0 136.7 202.0 135.5ZM237.8 135.2 237.5 135.2 236.7 135.5 236.3 135.8 236.0 136.5 236.5 141.2 236.7 146.0 236.9 146.2 237.8 146.1 238.1 145.9 238.1 137.9 238.6 137.5 238.7 137.3 238.1 135.4Z" fill="#000" fill-rule="evenodd"/><path d="M374.2 146.7 374.0 146.8 373.1 147.7 372.1 146.8 370.9 148.2 371.9 149.2 372.2 149.3 372.8 150.0 373.3 150.2 374.2 149.4 374.2 149.1 375.0 148.4 375.3 147.9 375.2 147.6ZM353.1 142.6 352.8 142.3 351.5 142.2 350.1 141.8 349.4 141.5 348.0 140.6 346.9 140.1 345.7 140.1 344.8 140.5 344.4 140.8 344.1 141.4 344.1 142.2 344.2 142.6 344.5 143.0 345.8 142.4 346.9 142.4 347.2 142.6 348.2 143.2 348.0 143.4 346.6 143.7 344.3 144.0 343.3 144.0 342.3 143.7 342.2 143.6 342.8 142.1 342.7 141.9 342.2 141.7 341.8 141.7 341.2 142.2 340.8 143.0 340.3 143.5 339.7 143.7 337.7 144.1 334.8 144.0 333.9 143.7 333.3 143.0 333.0 142.2 333.1 141.1 332.8 140.8 332.3 140.8 331.9 141.1 331.7 142.3 331.7 143.4 331.9 144.3 332.5 145.3 333.2 145.8 334.4 146.3 336.8 146.4 338.6 146.1 340.2 145.6 341.1 145.1 341.9 145.7 342.8 146.1 345.4 146.2 346.9 145.9 349.3 144.6 350.0 144.4 352.1 144.4 352.2 144.3ZM374.7 139.5 374.4 139.4 373.8 139.8 373.2 140.4 373.0 140.9 373.0 141.7 374.0 143.4 373.8 143.7 373.0 143.8 370.9 144.0 369.7 143.8 369.6 143.7 368.5 140.0 368.2 139.9 367.5 140.4 366.9 141.4 366.9 142.2 367.2 143.0 368.5 145.2 368.5 145.4 368.2 146.0 367.4 146.9 366.7 147.2 365.0 147.3 364.1 147.1 364.0 147.2 363.8 147.7 363.8 148.1 364.3 148.6 365.6 149.4 366.8 149.4 368.1 148.7 368.7 148.0 369.4 146.9 369.7 146.0 370.2 146.2 372.1 146.1 373.8 145.7 374.7 145.3 375.0 144.8 375.4 143.6 375.2 141.8ZM305.2 139.2 304.8 139.6 304.6 139.9 304.5 140.5 304.8 141.3 304.4 141.8 303.8 143.0 303.6 143.4 303.6 144.6 304.1 145.6 304.6 146.0 305.4 146.4 306.2 146.4 307.1 146.1 307.7 145.6 308.4 144.2 308.7 143.4 308.7 143.0 308.4 141.9 307.7 140.9 306.7 139.9ZM305.8 142.0 306.9 143.2 307.2 143.8 307.1 144.1 306.4 144.3 305.7 144.3 305.1 143.8 305.1 143.0 305.5 142.3ZM390.6 145.3 390.9 145.9 391.5 146.2 392.2 146.4 393.4 146.4 394.3 146.2 395.4 145.8 395.9 145.5 396.3 145.8 397.2 146.2 398.6 146.2 399.8 146.0 401.3 145.3 402.4 145.9 403.8 146.2 405.5 146.2 407.3 145.9 408.7 145.3 409.3 143.9 409.4 142.8 408.8 139.9 408.7 139.5 408.5 139.4 408.2 139.6 407.2 140.4 407.0 140.9 407.1 141.7 408.0 143.4 407.8 143.7 406.4 143.9 404.1 144.0 403.2 143.8 404.0 142.6 404.2 141.5 403.8 140.6 403.1 139.9 402.0 139.4 400.7 139.4 399.6 139.7 398.7 140.2 398.2 140.7 397.9 141.3 397.9 141.7 398.2 142.4 398.6 142.6 398.9 142.6 400.0 143.8 397.9 144.0 397.0 143.8 396.5 143.3 395.9 142.1 395.1 139.1 394.8 138.8 394.3 139.1 393.9 139.5 393.6 140.2 393.7 141.3 394.1 142.4 394.8 143.8 394.6 144.0 394.2 144.1 392.6 144.1 391.9 143.9 391.2 143.5 390.9 143.7 390.6 144.5ZM400.9 141.5 401.8 141.5 402.2 142.0 402.2 142.6 401.6 143.3 400.2 141.8ZM383.7 138.8 383.0 139.2 382.6 139.6 382.3 140.3 382.3 140.9 382.8 142.0 384.0 143.7 383.8 143.9 383.0 144.1 381.5 144.1 380.9 143.9 380.3 143.5 380.0 143.6 379.5 144.5 379.5 145.3 379.7 145.7 380.4 146.2 381.1 146.4 383.0 146.3 384.7 145.7 385.0 145.3 385.3 144.1 385.3 143.3 384.0 139.1ZM362.3 138.8 361.6 139.2 361.1 139.6 360.8 140.3 360.8 140.9 361.4 142.0 362.5 143.7 362.4 143.9 361.6 144.1 360.1 144.1 359.5 143.9 358.8 143.5 358.5 143.6 358.1 144.5 358.1 145.3 358.3 145.7 359.0 146.2 359.7 146.4 361.6 146.3 363.3 145.7 363.5 145.3 363.9 144.1 363.9 143.3 362.5 139.1ZM309.6 144.5 309.6 145.3 309.8 145.7 310.5 146.2 311.2 146.4 312.4 146.4 313.3 146.2 314.4 145.8 315.0 145.5 315.4 145.8 316.3 146.2 317.4 146.2 318.6 145.9 319.8 146.4 320.9 146.4 321.7 146.2 322.2 146.0 322.4 145.6 322.7 145.6 324.3 146.2 326.0 146.4 326.3 146.0 326.7 144.9 326.9 143.6 326.2 140.0 325.9 139.9 324.8 140.8 324.4 141.6 324.5 142.2 325.4 144.1 325.3 144.1 324.5 144.1 323.1 143.6 323.7 141.8 323.7 141.5 323.3 141.3 322.6 141.4 322.2 141.7 321.3 144.0 319.8 144.0 320.4 142.3 320.3 142.2 319.9 141.9 319.6 141.9 319.1 142.2 318.4 143.4 317.9 143.8 317.0 144.0 316.0 143.8 315.5 143.3 315.1 142.5 314.4 140.4 314.1 139.1 313.8 138.8 313.4 139.1 313.0 139.5 312.7 140.2 312.7 141.3 313.1 142.4 313.8 143.8 313.7 144.0 313.2 144.1 311.6 144.1 311.0 143.9 310.2 143.5 309.9 143.7ZM338.9 139.4 337.8 138.2 336.6 139.3 335.7 138.4 334.5 139.7 335.4 140.7 335.8 140.9 336.2 140.5 336.7 139.9 337.8 140.7 338.6 139.9ZM322.3 136.8 321.3 137.7 321.3 138.0 320.0 139.3 320.2 139.6 321.2 140.5 321.5 140.4 322.3 139.4 323.2 140.2 323.4 140.3 324.3 139.5 324.5 139.1 324.4 138.8 323.6 138.0 323.3 137.9ZM347.9 136.5 346.6 137.7 346.5 138.0 347.2 138.7 347.9 139.2 348.8 138.4 349.2 137.8 348.1 136.6ZM409.9 137.6 408.8 136.4 407.6 137.5 406.7 136.6 405.5 137.9 406.4 138.9 406.8 139.1 407.2 138.7 407.7 138.0 408.8 138.8 409.6 138.0ZM388.6 135.2 388.3 135.2 387.5 135.5 387.1 135.8 386.8 136.5 387.3 141.2 387.5 146.0 387.7 146.2 388.6 146.1 388.9 145.9 389.0 137.9 389.4 137.5 389.5 137.3 388.9 135.4ZM356.1 135.2 355.8 135.2 355.0 135.5 354.6 135.8 354.3 136.5 354.8 141.2 355.0 146.0 355.2 146.2 356.1 146.1 356.4 145.9 356.5 137.9 356.9 137.5 357.0 137.3 356.4 135.4Z" fill="#000" fill-rule="evenodd"/>
<rect x="132.9" y="531.3" width="15.0" height="19" fill="#ffffff"/><rect x="230.7" y="401.2" width="60.3" height="19" fill="#ffffff"/><rect x="351.1" y="325.3" width="60.3" height="19" fill="#ffffff"/><rect x="471.4" y="272.8" width="60.3" height="19" fill="#ffffff"/><rect x="591.6" y="217.3" width="60.3" height="19" fill="#ffffff"/><rect x="712.0" y="173.5" width="60.3" height="19" fill="#ffffff"/><rect x="832.2" y="140.3" width="60.3" height="19" fill="#ffffff"/><rect x="952.6" y="106.0" width="60.3" height="19" fill="#ffffff"/><rect x="236.4" y="529.2" width="49.0" height="19" fill="#ffffff"/><rect x="351.8" y="515.9" width="58.8" height="19" fill="#ffffff"/><rect x="472.1" y="491.7" width="58.8" height="19" fill="#ffffff"/><rect x="587.5" y="464.4" width="68.5" height="19" fill="#ffffff"/><rect x="707.8" y="436.9" width="68.5" height="19" fill="#ffffff"/><rect x="828.1" y="405.4" width="68.5" height="19" fill="#ffffff"/><rect x="948.4" y="383.2" width="68.5" height="19" fill="#ffffff"/>
<polyline points="140.10,558.30 260.40,428.90 380.70,353.06 501.00,300.53 621.30,245.05 741.60,201.20 861.90,168.04 982.20,133.79" fill="none" stroke="#4d6898" stroke-width="2.6" stroke-linejoin="round"/><circle cx="140.10" cy="558.30" r="3.3" fill="#4a6aa8"/><circle cx="260.40" cy="428.90" r="3.3" fill="#4a6aa8"/><circle cx="380.70" cy="353.06" r="3.3" fill="#4a6aa8"/><circle cx="501.00" cy="300.53" r="3.3" fill="#4a6aa8"/><circle cx="621.30" cy="245.05" r="3.3" fill="#4a6aa8"/><circle cx="741.60" cy="201.20" r="3.3" fill="#4a6aa8"/><circle cx="861.90" cy="168.04" r="3.3" fill="#4a6aa8"/><circle cx="982.20" cy="133.79" r="3.3" fill="#4a6aa8"/><polyline points="140.10,558.30 260.40,557.64 380.70,544.28 501.00,520.08 621.30,492.80 741.60,465.32 861.90,433.76 982.20,411.55" fill="none" stroke="#cf8a5a" stroke-width="2.6" stroke-linejoin="round"/><circle cx="140.10" cy="558.30" r="3.3" fill="#e08e52"/><circle cx="260.40" cy="557.64" r="3.3" fill="#e08e52"/><circle cx="380.70" cy="544.28" r="3.3" fill="#e08e52"/><circle cx="501.00" cy="520.08" r="3.3" fill="#e08e52"/><circle cx="621.30" cy="492.80" r="3.3" fill="#e08e52"/><circle cx="741.60" cy="465.32" r="3.3" fill="#e08e52"/><circle cx="861.90" cy="433.76" r="3.3" fill="#e08e52"/><circle cx="982.20" cy="411.55" r="3.3" fill="#e08e52"/>
<text x="140.40" y="545.80" class="dl" style="font-size:17.5px">0</text><text x="260.90" y="415.65" class="dl" style="font-size:16px" textLength="55.3" lengthAdjust="spacingAndGlyphs">231,895</text><text x="381.20" y="339.81" class="dl" style="font-size:16px" textLength="55.3" lengthAdjust="spacingAndGlyphs">367,812</text><text x="501.50" y="287.28" class="dl" style="font-size:16px" textLength="55.3" lengthAdjust="spacingAndGlyphs">461,950</text><text x="621.80" y="231.80" class="dl" style="font-size:16px" textLength="55.3" lengthAdjust="spacingAndGlyphs">561,388</text><text x="742.10" y="187.95" class="dl" style="font-size:16px" textLength="55.3" lengthAdjust="spacingAndGlyphs">639,960</text><text x="862.40" y="154.79" class="dl" style="font-size:16px" textLength="55.3" lengthAdjust="spacingAndGlyphs">699,397</text><text x="982.70" y="120.54" class="dl" style="font-size:16px" textLength="55.3" lengthAdjust="spacingAndGlyphs">760,763</text><text x="260.90" y="543.74" class="dl" style="font-size:17px" textLength="44.0" lengthAdjust="spacingAndGlyphs">1,175</text><text x="381.20" y="530.38" class="dl" style="font-size:17px" textLength="53.8" lengthAdjust="spacingAndGlyphs">25,121</text><text x="501.50" y="506.18" class="dl" style="font-size:17px" textLength="53.8" lengthAdjust="spacingAndGlyphs">68,498</text><text x="621.80" y="478.90" class="dl" style="font-size:17px" textLength="63.5" lengthAdjust="spacingAndGlyphs">117,387</text><text x="742.10" y="451.42" class="dl" style="font-size:17px" textLength="63.5" lengthAdjust="spacingAndGlyphs">166,624</text><text x="862.40" y="419.86" class="dl" style="font-size:17px" textLength="63.5" lengthAdjust="spacingAndGlyphs">223,185</text><text x="982.70" y="397.65" class="dl" style="font-size:17px" textLength="63.5" lengthAdjust="spacingAndGlyphs">262,987</text><text x="140.70" y="585" class="xa" textLength="82.5" lengthAdjust="spacingAndGlyphs">1404/02/16</text><text x="261.00" y="585" class="xa" textLength="82.5" lengthAdjust="spacingAndGlyphs">1404/02/31</text><text x="381.30" y="585" class="xa" textLength="82.5" lengthAdjust="spacingAndGlyphs">1404/03/31</text><text x="501.60" y="585" class="xa" textLength="82.5" lengthAdjust="spacingAndGlyphs">1404/04/31</text><text x="621.90" y="585" class="xa" textLength="82.5" lengthAdjust="spacingAndGlyphs">1404/05/31</text><text x="742.20" y="585" class="xa" textLength="82.5" lengthAdjust="spacingAndGlyphs">1404/06/31</text><text x="862.50" y="585" class="xa" textLength="82.5" lengthAdjust="spacingAndGlyphs">1404/07/30</text><text x="982.80" y="585" class="xa" textLength="82.5" lengthAdjust="spacingAndGlyphs">1404/09/01</text>
<rect x="7" y="10.5" width="1060" height="77" rx="22" ry="22" fill="none" stroke="#1b2d45" stroke-width="5"/><path d="M31.1 89 H1043.1 A24 24 0 0 1 1067.1 113 V612 A29 29 0 0 1 1038.1 641 H33.1 A26 26 0 0 1 7.1 615 V113 A24 24 0 0 1 31.1 89 Z" fill="none" stroke="#1b2d45" stroke-width="5"/>
</svg></body></html>
